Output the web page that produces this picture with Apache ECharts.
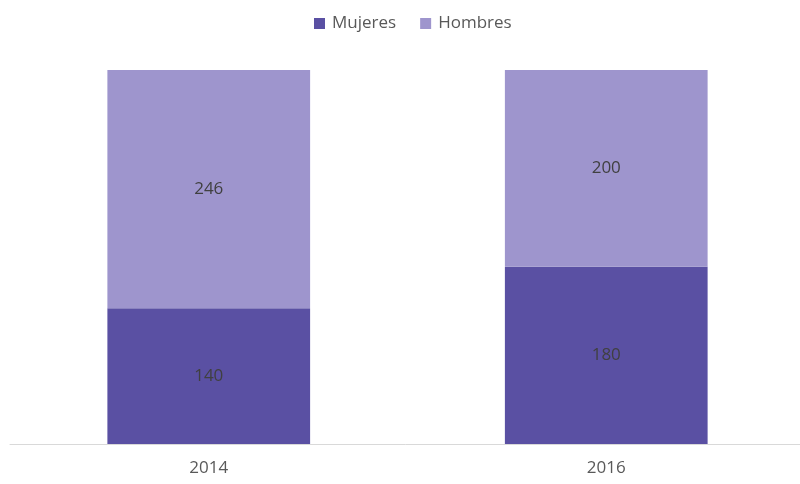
<!DOCTYPE html>
<html><head><meta charset="utf-8">
<script src="https://cdn.jsdelivr.net/npm/echarts@6/dist/echarts.min.js"></script>
<style>html,body{margin:0;padding:0;background:#fff}#c{width:800px;height:484px}</style>
</head><body><div id="c"></div>
<script>
const categories = ['2014', '2016'];
const mujeres = [140, 180];
const hombres = [246, 200];

const totals = categories.map((c, i) => mujeres[i] + hombres[i]);
const share = (arr) => arr.map((v, i) => ({ value: v / totals[i], raw: v }));

const chart = echarts.init(document.getElementById('c'));
const labelCfg = {
  show: true, position: 'inside', color: '#404040',
  fontFamily: 'Open Sans', fontSize: 17,
  formatter: p => p.data.raw
};
chart.setOption({
  animation: false,
  legend: {
    top: 10, left: 309, itemWidth: 11, itemHeight: 11, itemGap: 24,
    icon: 'rect',
    textStyle: { color: '#595959', fontFamily: 'Open Sans', fontSize: 17, padding: [0, 0, 0, 2] },
    data: ['Mujeres', 'Hombres']
  },
  grid: { left: 10, right: -5, top: 70, bottom: 40, outerBoundsMode: 'none', containLabel: false },
  xAxis: {
    type: 'category', data: categories,
    axisLine: { lineStyle: { color: '#d9d9d9', width: 1 } },
    axisTick: { show: false },
    axisLabel: { color: '#595959', fontFamily: 'Open Sans', fontSize: 17, margin: 16 }
  },
  yAxis: { type: 'value', min: 0, max: 1, show: false, splitLine: { show: false } },
  series: [
    { name: 'Mujeres', type: 'bar', stack: 't', barWidth: '51%',
      itemStyle: { color: '#5a50a3' }, label: labelCfg, data: share(mujeres) },
    { name: 'Hombres', type: 'bar', stack: 't',
      itemStyle: { color: '#9e95cd' }, label: labelCfg, data: share(hombres) }
  ]
});
</script></body></html>
